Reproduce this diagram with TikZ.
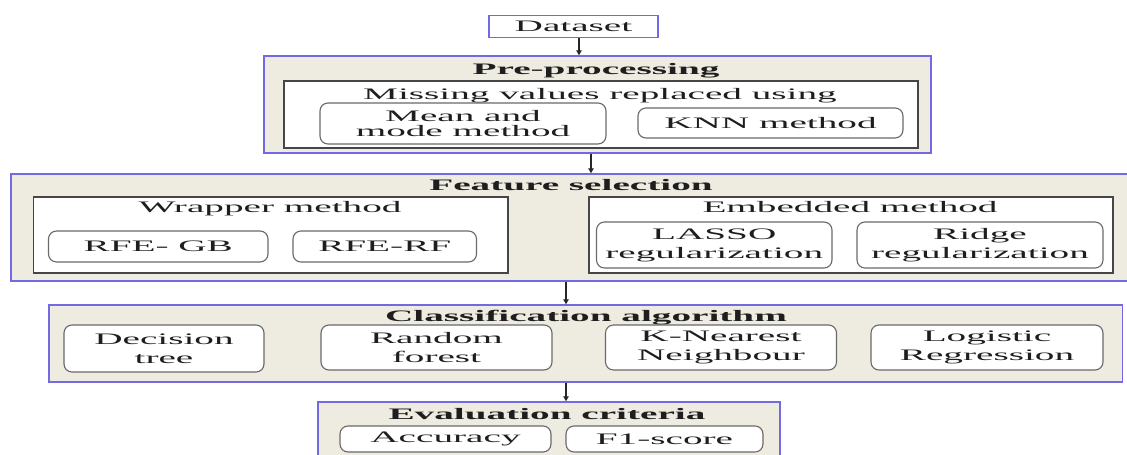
\documentclass[tikz,border=0pt]{standalone}
\usepackage{fontspec}
\setmainfont{Liberation Serif}[FakeStretch=2.45]
\usetikzlibrary{arrows.meta}
\definecolor{bblue}{RGB}{115,105,225}
\definecolor{beige}{RGB}{238,236,225}
\definecolor{dgray}{RGB}{70,70,70}
\definecolor{rgray}{RGB}{105,105,105}
\definecolor{txt}{RGB}{30,30,30}
\begin{document}
\begin{tikzpicture}[x=1pt,y=-1pt,
 sz/.style 2 args={minimum width=#1pt,minimum height=#2pt},
 outerbox/.style={draw=bblue,fill=beige,line width=1.5pt,inner sep=0pt},
 dsbox/.style={draw=bblue,fill=white,line width=1.5pt,inner sep=0pt,text=txt,font=\fontsize{16}{19}\selectfont},
 innerbox/.style={draw=dgray,fill=white,line width=1.8pt,inner sep=0pt},
 rbox/.style={draw=rgray,fill=white,line width=1.1pt,rounded corners=8pt,inner sep=0pt,align=center,text=txt,font=\fontsize{16}{19}\selectfont},
 ttl/.style={inner sep=0pt,anchor=base,text=txt,font=\fontsize{16}{19}\selectfont\bfseries},
 sub/.style={inner sep=0pt,anchor=base,text=txt,font=\fontsize{16}{19}\selectfont},
 arr/.style={draw=black!85,line width=1.1pt,-{Triangle[length=5pt,width=5.5pt]}},
 ]
\useasboundingbox (0,0) rectangle (1127,455);
\clip (0,0) rectangle (1127,455);
% Dataset
\node[dsbox,sz={169}{22}] (dataset) at (573.5,26.5) {Dataset};
% Pre-processing
\node[outerbox,sz={667}{97}] (pre) at (597.5,104.5) {};
\node[ttl] (pretitle) at (596,74) {Pre-processing};
\node[innerbox,sz={634}{67}] (missing) at (601,114.5) {};
\node[sub] (missingtitle) at (600,99) {Missing values replaced using};
\node[rbox,sz={286}{41},font=\fontsize{16}{15.5}\selectfont] (meanmode) at (463,123.5) {Mean and\\mode method};
\node[rbox,sz={265}{30}] (knn) at (770.5,123) {KNN method};
% Feature selection
\node[outerbox,sz={1130}{107}] (feat) at (576,227.5) {};
\node[ttl] (feattitle) at (571,190.7) {Feature selection};
\node[innerbox,sz={474.5}{76}] (wrapper) at (270.75,235) {};
\node[sub] (wrappertitle) at (270,212.7) {Wrapper method};
\node[rbox,sz={219.5}{31}] (rfegb) at (158.25,246.5) {RFE- GB};
\node[rbox,sz={183.5}{31}] (rferf) at (384.75,246.5) {RFE-RF};
\node[innerbox,sz={524}{76}] (embedded) at (851,235) {};
\node[sub] (embeddedtitle) at (850,212.7) {Embedded method};
\node[rbox,sz={235.5}{46}] (lasso) at (714.25,245) {LASSO\\regularization};
\node[rbox,sz={246}{46}] (ridge) at (980,245) {Ridge\\regularization};
% Classification
\node[outerbox,sz={1073.5}{77}] (class) at (585.75,343.5) {};
\node[ttl] (classtitle) at (586,321) {Classification algorithm};
\node[rbox,sz={200}{47}] (dtree) at (164,348.5) {Decision\\tree};
\node[rbox,sz={231}{45}] (rforest) at (436.5,347.5) {Random\\forest};
\node[rbox,sz={231}{45}] (knear) at (721,347.5) {K-Nearest\\Neighbour};
\node[rbox,sz={232}{45}] (logreg) at (987,347.5) {Logistic\\Regression};
% Evaluation
\node[outerbox,sz={462}{60}] (eval) at (549,432) {};
\node[ttl] (evaltitle) at (547,419.3) {Evaluation criteria};
\node[rbox,sz={211}{26}] (acc) at (445.5,439) {Accuracy};
\node[rbox,sz={197}{26}] (f1) at (664.5,439) {F1-score};
% Arrows
\coordinate (c1) at (579,0);
\coordinate (c2) at (591,0);
\coordinate (c3) at (566,0);
\draw[arr] (c1 |- dataset.south) -- (c1 |- pre.north);
\draw[arr] (c2 |- pre.south) -- (c2 |- feat.north);
\draw[arr] (c3 |- feat.south) -- (c3 |- class.north);
\draw[arr] (c3 |- class.south) -- (c3 |- eval.north);
\end{tikzpicture}
\end{document}
